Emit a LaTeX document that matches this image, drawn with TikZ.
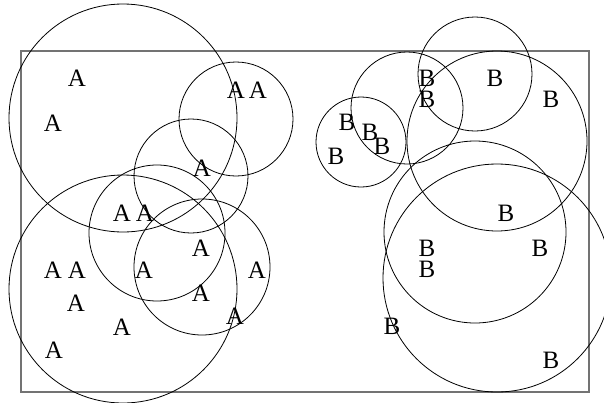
\documentclass[tikz,border=0pt]{standalone}
\usepackage{fontspec}
\setmainfont{Liberation Serif}
\usetikzlibrary{positioning}

\tikzset{
	ring/.style={draw=black, line width=0.8pt},
	frame/.style={draw=black!55, line width=1.3pt},
	lbl/.style={inner sep=0pt, font=\fontsize{25}{25}\selectfont},
}

\begin{document}
\begin{tikzpicture}[x=1pt, y=-1pt]
		\useasboundingbox (0,0) rectangle (604,402);
		\draw[frame] (21,51) rectangle (589,392);
		% circles round the A points
		\foreach \cx/\cy/\r in {123/118/114, 236/119/57, 191/176/57, 157/233/68, 202/267/68, 123/289/114}
			\draw[ring] (\cx,\cy) circle (\r pt);
		% circles round the B points
		\foreach \cx/\cy/\r in {361/142/45, 407/108/56, 475/74/57, 497/141/90, 475/232/91, 497/278/114}
			\draw[ring] (\cx,\cy) circle (\r pt);
		% the A points
		\foreach \x/\y [count=\i] in {77/78, 53/123, 236/90, 258/90, 202/168, 122/213, 145/213,
				201/248, 53/270, 77/270, 144/270, 257/270, 76/303, 201/293, 235/316, 122/327, 54/350}
			\node[lbl] (a\i) at (\x,\y) {A};
		% the B points
		\foreach \x/\y [count=\i] in {427/78, 427/99, 495/78, 551/99, 347/122, 370/132, 382/146, 336/156,
				506/213, 427/248, 427/269, 540/248, 392/326, 551/360}
			\node[lbl] (b\i) at (\x,\y) {B};
	\end{tikzpicture}
\end{document}
